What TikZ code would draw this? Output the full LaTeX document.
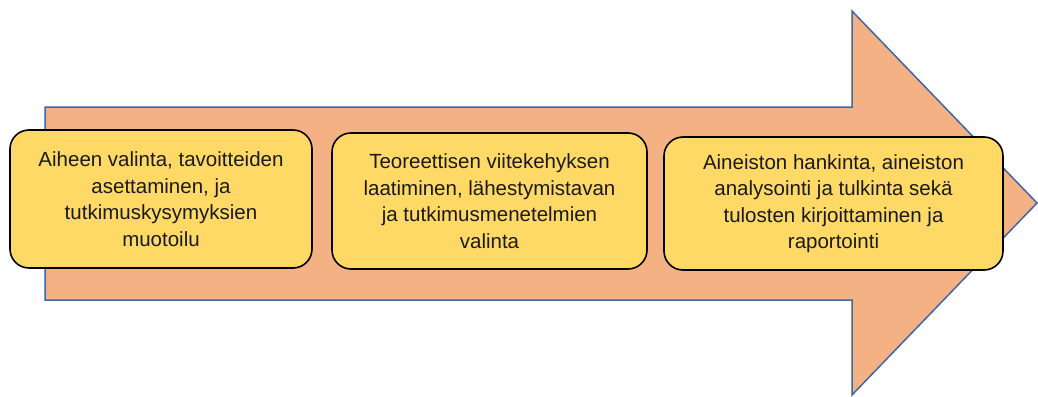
\documentclass[tikz,border=0pt]{standalone}
\usepackage{fontspec}
\setmainfont{Liberation Sans}
\definecolor{shaftfill}{HTML}{F4B183}
\definecolor{shaftline}{HTML}{3E66A8}
\definecolor{stepfill}{HTML}{FFD966}
\definecolor{steptext}{HTML}{1A1A1A}
\tikzset{
  bigarrow/.style={fill=shaftfill, draw=shaftline, line width=1.5pt, line join=miter},
  stepbox/.style={draw=black, fill=stepfill, line width=1.6pt, rounded corners=19pt,
    text=steptext, align=center, inner sep=0pt,
    font=\fontsize{20.5}{26.5}\selectfont},
}
\begin{document}
\begin{tikzpicture}[x=1pt,y=-1pt]
  \useasboundingbox (0,0) rectangle (1038,396);
  % process arrow
  \draw[bigarrow] (45,107) -- (852,107) -- (852,11) -- (1037,203) -- (852,395)
    -- (852,300) -- (45,300) -- cycle;
  % steps
  \node[stepbox, minimum width=302pt, minimum height=138pt] (s1) at (161,199)
    {Aiheen valinta, tavoitteiden\\asettaminen, ja\\tutkimuskysymyksien\\muotoilu};
  \node[stepbox, minimum width=315pt, minimum height=136pt] (s2) at (489.5,201)
    {Teoreettisen viitekehyksen\\laatiminen, lähestymistavan\\ja tutkimusmenetelmien\\valinta};
  \node[stepbox, minimum width=339pt, minimum height=133pt] (s3) at (833.5,203.5)
    {Aineiston hankinta, aineiston\\analysointi ja tulkinta sekä\\tulosten kirjoittaminen ja\\raportointi};
\end{tikzpicture}
\end{document}
